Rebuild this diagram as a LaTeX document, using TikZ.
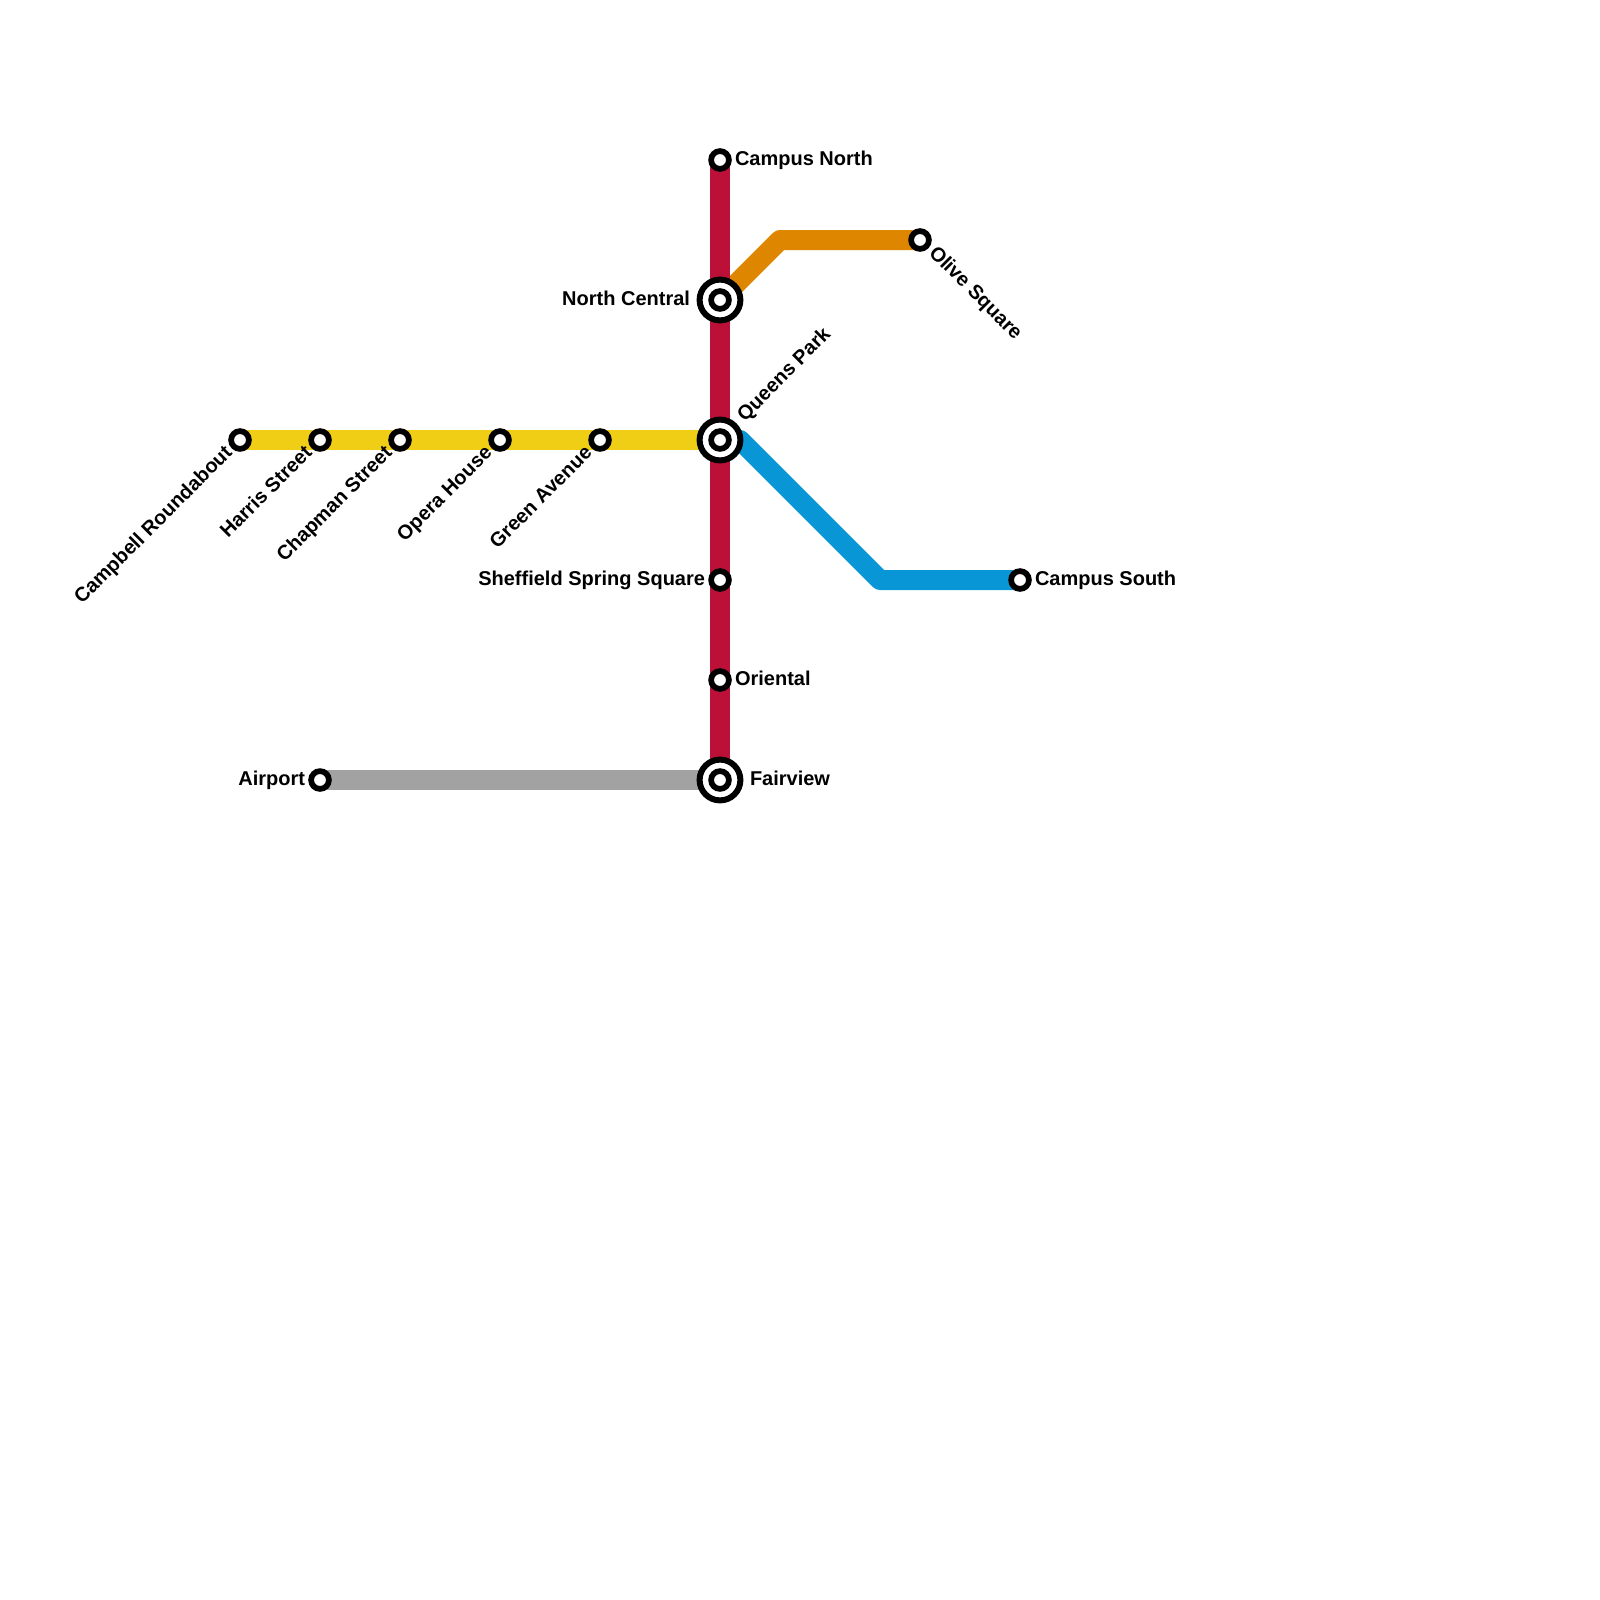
\documentclass[tikz,border=0pt]{standalone}
\usepackage{fontspec}
\setmainfont{Liberation Sans}[BoldFont={Liberation Sans Bold}]
\definecolor{redline}{HTML}{BD1038}
\definecolor{yellowline}{HTML}{F0CE15}
\definecolor{orangeline}{HTML}{DF8600}
\definecolor{blueline}{HTML}{0896D7}
\definecolor{greyline}{HTML}{A2A2A2}
\tikzset{
  x=0.5pt,y=-0.5pt,
  route/.style={line width=10pt,line join=round},
  stop/.style={circle,draw=black,fill=white,line width=2.85pt,minimum size=8.9pt,inner sep=0pt,outer sep=0pt},
  hub/.style={circle,draw=black,fill=white,line width=3pt,minimum size=20.4pt,inner sep=0pt,outer sep=0pt},
  lab/.style={inner sep=0pt,outer sep=0pt,font=\fontsize{10}{12}\selectfont\bfseries,text=black}
}
\begin{document}
\begin{tikzpicture}
\useasboundingbox (0,0) rectangle (1600,1600);
\coordinate (cn) at (720,160);
\coordinate (nc) at (720,300);
\coordinate (qp) at (720,440);
\coordinate (ss) at (720,580);
\coordinate (or) at (720,680);
\coordinate (fv) at (720,780);
\coordinate (cr) at (240,440);
\coordinate (hs) at (320,440);
\coordinate (cs) at (400,440);
\coordinate (oh) at (500,440);
\coordinate (ga) at (600,440);
\coordinate (ap) at (320,780);
\coordinate (os) at (920,240);
\coordinate (so) at (1020,580);
\coordinate (b1) at (780,240);
\coordinate (b2) at (740,440);
\coordinate (b3) at (880,580);
\draw[route,orangeline] (nc) -- (b1) -- (os);
\draw[route,blueline] (qp) -- (b2) -- (b3) -- (so);
\draw[route,greyline] (ap) -- (fv);
\draw[route,yellowline] (cr) -- (hs) -- (cs) -- (oh) -- (ga) -- (qp);
\draw[route,redline] (cn) -- (nc) -- (qp) -- (ss) -- (or) -- (fv);
\node[hub] (nch) at (nc) {};
\node[hub] (qph) at (qp) {};
\node[hub] (fvh) at (fv) {};
\foreach \n in {cn,nc,qp,ss,or,fv,cr,hs,cs,oh,ga,ap,os,so}
  \node[stop] (st\n) at (\n) {};
\node[lab,anchor=base west] (lcn) at (735,165) {Campus North};
\node[lab,anchor=base east] (lnc) at (690,305) {North Central};
\node[lab,anchor=base west,rotate=45] (lqp) at (745,422) {Queens Park};
\node[lab,anchor=base east] (lss) at (705,585) {Sheffield Spring Square};
\node[lab,anchor=base west] (lor) at (735,685) {Oriental};
\node[lab,anchor=base west] (lfv) at (750,785) {Fairview};
\node[lab,anchor=base east] (lap) at (305,785) {Airport};
\node[lab,anchor=base west] (lso) at (1035,585) {Campus South};
\node[lab,anchor=base west,rotate=-45] (los) at (928,254) {Olive Square};
\node[lab,anchor=base east,rotate=45] (lcr) at (233,454) {Campbell Roundabout};
\node[lab,anchor=base east,rotate=45] (lhs) at (313,454) {Harris Street};
\node[lab,anchor=base east,rotate=45] (lcs) at (393,454) {Chapman Street};
\node[lab,anchor=base east,rotate=45] (loh) at (493,454) {Opera House};
\node[lab,anchor=base east,rotate=45] (lga) at (593,454) {Green Avenue};
\end{tikzpicture}
\end{document}
